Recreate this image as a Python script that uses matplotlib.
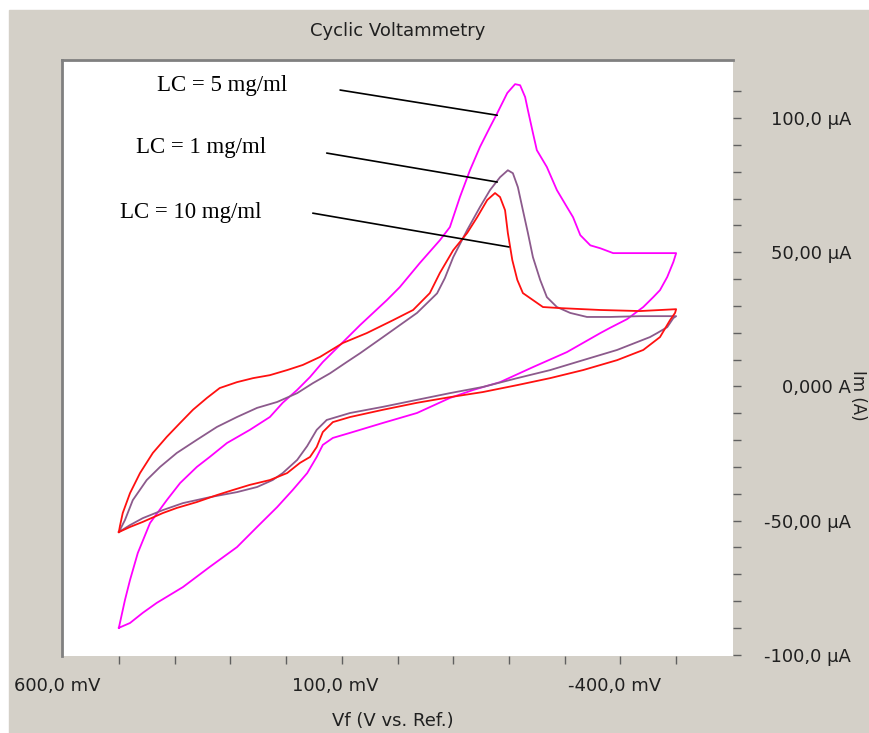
import numpy as np
import matplotlib.pyplot as plt
from matplotlib import transforms
from matplotlib.patches import Rectangle

# potential in mV, current in uA (upper branch then lower branch)
# LC = 5 mg/ml
v_5 = [600, 589, 580, 566, 544, 514, 490, 460, 437, 406, 365, 329, 306, 280, 257, 234, 216, 198, 167, 119,
       96, 60, 24, 6, -12, -30, -48, -66, -79, -97, -111, -120, -129, -134, -143, -150, -168, -186, -204, -215,
       -228, -246, -264, -287, -323, -359, -400,
       -395, -384, -371, -359, -341, -312, -281, -264, -204, -143, -84, -36, 6, 65, 126, 185, 216, 234, 245, 262,
       288, 316, 352, 388, 437, 485, 532, 557, 580, 600]
i_5 = [-90.0, -79.6, -72.2, -62.1, -50.9, -42.4, -36.0, -30.0, -26.3, -21.1, -16.2, -11.4, -6.1, -1.3, 3.5, 9.1,
       12.8, 16.5, 22.9, 32.2, 37.0, 46.0, 54.5, 59.4, 70.6, 80.6, 89.3, 96.7, 101.9, 109.4, 112.7, 112.3, 107.9,
       103.0, 94.5, 88.1, 81.8, 73.2, 66.9, 63.1, 56.4, 52.6, 51.5, 49.7, 49.7, 49.7, 49.7,
       46.4, 40.8, 35.9, 33.3, 29.6, 25.1, 21.8, 19.9, 12.8, 7.2, 1.6, -1.3, -4.3, -9.9, -13.6, -17.3, -19.2, -21.8,
       -26.3, -32.3, -38.6, -45.0, -52.4, -59.9, -67.3, -74.8, -80.7, -84.4, -88.2, -90.0]

# LC = 1 mg/ml
v_1 = [600, 589, 575, 550, 526, 496, 460, 424, 388, 352, 316, 280, 252, 221, 191, 167, 126, 65, 29, 15,
       0, -25, -48, -66, -84, -98, -107, -116, -125, -134, -143, -156, -168, -186, -210, -240, -281, -335, -400,
       -395, -384, -366, -353, -294, -233, -174, -115, -53, 6, 65, 126, 185, 227, 245, 262, 280, 306, 324, 352,
       388, 437, 485, 521, 557, 580, 600]
i_1 = [-54.3, -49.8, -42.4, -34.9, -30.0, -24.8, -19.9, -15.1, -11.4, -8.0, -5.8, -2.5, 1.2, 4.9, 9.1, 12.4,
       18.4, 27.4, 34.7, 40.4, 48.2, 58.3, 66.9, 73.2, 78.0, 80.6, 79.5, 74.3, 65.7, 57.2, 48.2, 39.7, 33.3,
       29.6, 27.4, 25.9, 25.9, 26.2, 26.2,
       25.5, 22.1, 19.9, 18.4, 13.6, 9.8, 6.1, 3.1, -0.2, -2.5, -5.0, -7.6, -9.9, -12.5, -16.2, -22.2, -27.4,
       -32.3, -34.9, -37.5, -39.4, -41.3, -43.5, -46.1, -49.1, -51.7, -54.3]

# LC = 10 mg/ml
v_10 = [600, 598, 593, 580, 562, 539, 514, 490, 467, 442, 419, 388, 359, 329, 298, 270, 239, 198, 155, 108,
        72, 42, 24, 0, -25, -43, -61, -75, -84, -93, -98, -106, -115, -125, -143, -161, -192, -264, -335, -400,
        -398, -389, -371, -341, -294, -233, -174, -115, -53, 6, 65, 126, 185, 216, 234, 245, 257, 275, 298, 329,
        365, 395, 424, 460, 496, 521, 557, 580, 600]
i_10 = [-54.3, -52.0, -47.2, -39.8, -32.3, -24.8, -18.8, -13.6, -8.7, -4.3, -0.6, 1.6, 3.1, 4.2, 6.1, 8.0,
        11.0, 16.2, 19.9, 24.7, 28.5, 34.8, 42.3, 50.8, 57.2, 63.1, 69.5, 72.1, 70.6, 65.7, 57.2, 47.1, 39.7,
        34.8, 32.2, 29.6, 29.2, 28.5, 28.1, 28.8,
        27.4, 24.7, 18.4, 13.6, 9.8, 6.1, 3.1, 0.5, -2.1, -4.0, -6.1, -8.7, -11.4, -13.3, -17.0, -22.6, -26.3,
        -28.5, -32.3, -34.9, -36.7, -38.6, -40.5, -43.1, -45.3, -47.2, -50.5, -52.4, -54.3]

x_major = [600, 100, -400]
x_labels = ['600,0 mV', '100,0 mV', '-400,0 mV']
y_major = [-100, -50, 0, 50, 100]
y_labels = ['-100,0 µA', '-50,00 µA', '0,000 A', '50,00 µA', '100,0 µA']

ann_labels = ['LC = 5 mg/ml', 'LC = 1 mg/ml', 'LC = 10 mg/ml']
ann_text = [(532, 112.3), (569, 88.9), (598, 65.0)]
ann_from = [(203, 110.5), (227, 87.0), (252, 64.6)]
ann_to = [(-79, 101.1), (-79, 76.2), (-100, 52.0)]

plt.rcParams['font.family'] = 'DejaVu Sans'
fig = plt.figure(figsize=(8.69, 7.33), dpi=100, facecolor='white')
fig.add_artist(Rectangle((9 / 869, 0), 1, 723 / 733, transform=fig.transFigure,
                         color='#d4d0c8', zorder=-5))
ax = fig.add_axes([62 / 869, 77 / 733, 671 / 869, 596 / 733])
ax.set_facecolor('white')

ax.plot(v_5, i_5, color='#ff00ff', lw=1.3)
ax.plot(v_1, i_1, color='#8c5a8c', lw=1.3)
ax.plot(v_10, i_10, color='#ff1010', lw=1.3)

for lab, t, a, b in zip(ann_labels, ann_text, ann_from, ann_to):
    ax.text(t[0], t[1], lab, family='Liberation Serif', fontsize=16.5, ha='left', va='center')
    ax.annotate('', xy=b, xytext=a, arrowprops=dict(arrowstyle='-', color='black', lw=1.2,
                                                   shrinkA=0, shrinkB=0))

ax.set_xlim(702, -502)
ax.set_ylim(-100.5, 121.7)

for s in ['right', 'bottom']:
    ax.spines[s].set_visible(False)
for s in ['top', 'left']:
    ax.spines[s].set_color('#808080')
    ax.spines[s].set_linewidth(2)

ax.set_xticks(x_major)
ax.set_xticklabels(x_labels)
ax.set_xticks(np.arange(-400, 601, 100), minor=True)
ax.yaxis.tick_right()
ax.set_yticks(y_major)
ax.set_yticklabels(y_labels)
ax.set_yticks(np.arange(-100, 111, 10), minor=True)
ax.tick_params(which='both', direction='out', length=6, width=1, color='#606060')
ax.tick_params(axis='x', which='major', pad=9, labelsize=13, labelcolor='#202020')
ax.tick_params(axis='y', which='major', pad=79, labelsize=13, labelcolor='#202020')

off = transforms.ScaledTranslation(-0.62, 0, fig.dpi_scale_trans)
for lab in ax.get_xticklabels():
    lab.set_transform(lab.get_transform() + off)
for lab in ax.get_yticklabels():
    lab.set_horizontalalignment('right')

ax.set_title('Cyclic Voltammetry', fontsize=13, pad=17, color='#202020')
fig.text(393 / 869, 1 - 721 / 733, 'Vf (V vs. Ref.)', fontsize=13, ha='center', va='center',
         color='#202020')
fig.text(858 / 869, 1 - 395 / 733, 'Im (A)', fontsize=12, ha='center', va='center', rotation=270,
         color='#202020')

plt.savefig('out.png', dpi=100, facecolor=fig.get_facecolor())
